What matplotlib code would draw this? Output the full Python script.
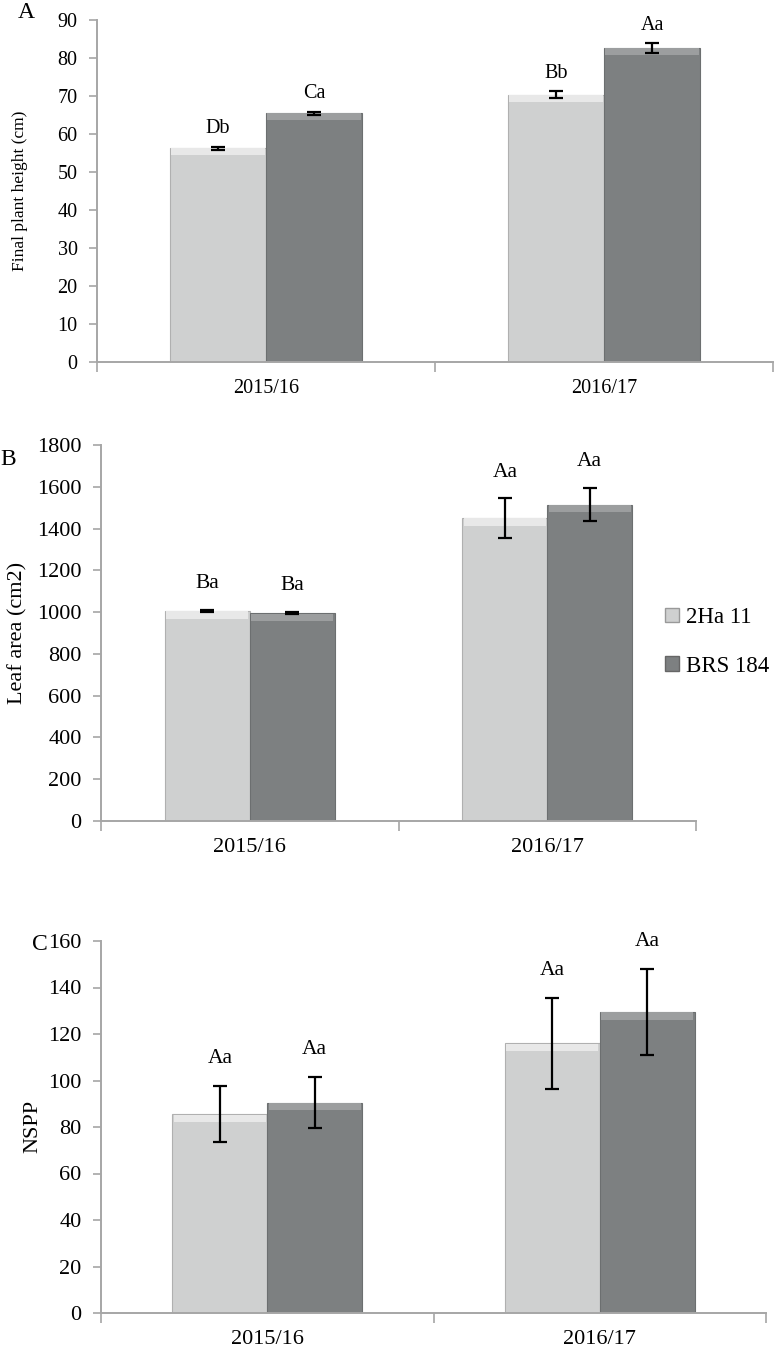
import numpy as np
import matplotlib
matplotlib.use("Agg")
from matplotlib import pyplot as plt
from matplotlib.patches import Patch

plt.rcParams['font.family'] = ['Liberation Serif', 'DejaVu Serif']

seasons = ['2015/16', '2016/17']
cultivars = ['2Ha 11', 'BRS 184']

# A - final plant height (cm)
height_2ha = [56.3, 70.3]
height_brs = [65.5, 82.6]
height_err_2ha = [0.4, 0.9]
height_err_brs = [0.4, 1.3]
height_lbl_2ha = ['Db', 'Bb']
height_lbl_brs = ['Ca', 'Aa']

# B - leaf area (cm2)
leaf_2ha = [1005, 1450]
leaf_brs = [995, 1515]
leaf_err_2ha = [5, 95]
leaf_err_brs = [5, 79]
leaf_lbl_2ha = ['Ba', 'Aa']
leaf_lbl_brs = ['Ba', 'Aa']

# C - NSPP
nspp_2ha = [85.5, 116.0]
nspp_brs = [90.5, 129.5]
nspp_err_2ha = [12.0, 19.5]
nspp_err_brs = [11.0, 18.5]
nspp_lbl_2ha = ['Aa', 'Aa']
nspp_lbl_brs = ['Aa', 'Aa']

light = '#cfd0d0'
light_top = '#e8e8e8'
dark = '#7d8081'
dark_top = '#9c9e9f'
spine = '#a6a6a6'

W, H = 774, 1351
fig = plt.figure(figsize=(W / 100, H / 100), dpi=100)


def panel(rect, v1, v2, e1, e2, l1, l2, ymax, step, tick_fs, lbl_fs, lbl_off):
    ax = fig.add_axes(rect)
    x = np.arange(len(seasons))
    w = 0.285
    strip = ymax * 0.02
    for xs, vals, errs, lbls, col, top in [(x - w / 2, v1, e1, l1, light, light_top),
                                           (x + w / 2, v2, e2, l2, dark, dark_top)]:
        ax.bar(xs, vals, w, color=col, edgecolor='#b0b0b0' if col == light else '#6c6f70',
               linewidth=0.8, zorder=2)
        # bevel highlight along the top of each bar
        ax.bar(xs, strip, w * 0.97, bottom=np.array(vals) - strip * 1.05, color=top,
               linewidth=0, zorder=3)
        ax.errorbar(xs, vals, yerr=errs, fmt='none', ecolor='black', elinewidth=1.6,
                    capsize=5, capthick=1.6, zorder=4)
        for xi, v, e, t in zip(xs, vals, errs, lbls):
            ax.annotate(t, (xi, v + e), xytext=(0, lbl_off), textcoords='offset points',
                        ha='center', va='bottom', fontsize=lbl_fs)
    ax.set_xlim(-0.5, len(seasons) - 0.5)
    ax.set_ylim(0, ymax)
    ax.set_yticks(np.arange(0, ymax + step / 2, step))
    ax.set_xticks(x)
    ax.set_xticklabels(seasons, fontsize=tick_fs)
    ax.set_xticks(np.arange(-0.5, len(seasons), 1.0), minor=True)
    ax.tick_params(axis='x', which='major', length=0, pad=12)
    ax.tick_params(axis='x', which='minor', length=7, color=spine, width=1.2)
    ax.tick_params(axis='y', length=6, color=spine, width=1.2, pad=8, labelsize=tick_fs)
    for s in ['top', 'right']:
        ax.spines[s].set_visible(False)
    for s in ['left', 'bottom']:
        ax.spines[s].set_color(spine)
        ax.spines[s].set_linewidth(1.4)
    return ax


def fr(left, right, top, bottom):
    return [left / W, 1 - bottom / H, (right - left) / W, (bottom - top) / H]


axA = panel(fr(97, 773, 20, 362), height_2ha, height_brs, height_err_2ha, height_err_brs,
            height_lbl_2ha, height_lbl_brs, 90, 10, 14.5, 14.5, 6)
axB = panel(fr(101, 696, 445, 821), leaf_2ha, leaf_brs, leaf_err_2ha, leaf_err_brs,
            leaf_lbl_2ha, leaf_lbl_brs, 1800, 200, 16, 15.5, 12)
axC = panel(fr(101, 766, 941, 1313), nspp_2ha, nspp_brs, nspp_err_2ha, nspp_err_brs,
            nspp_lbl_2ha, nspp_lbl_brs, 160, 20, 16, 15.5, 13)

fig.text(26 / W, 1 - 12 / H, 'A', fontsize=17, ha='center', va='center')
fig.text(8 / W, 1 - 460 / H, 'B', fontsize=17, ha='center', va='center')
fig.text(40 / W, 1 - 945 / H, 'C', fontsize=17, ha='center', va='center')

fig.text(20 / W, 1 - 191 / H, 'Final plant height (cm)', fontsize=12.5, rotation=90,
         ha='center', va='center')
fig.text(18 / W, 1 - 633 / H, 'Leaf area (cm2)', fontsize=16, rotation=90,
         ha='center', va='center')
fig.text(33 / W, 1 - 1126 / H, 'NSPP', fontsize=16, rotation=90,
         ha='center', va='center')

handles = [Patch(facecolor=light, edgecolor='#999999'), Patch(facecolor=dark, edgecolor='#666666')]
fig.legend(handles, cultivars, loc='center left', bbox_to_anchor=(665 / W, 1 - 642 / H),
           frameon=False, fontsize=16.5, handlelength=0.6, handleheight=0.6,
           handletextpad=0.3, labelspacing=1.2, borderpad=0, borderaxespad=0)

fig.savefig('out.png', dpi=100)
